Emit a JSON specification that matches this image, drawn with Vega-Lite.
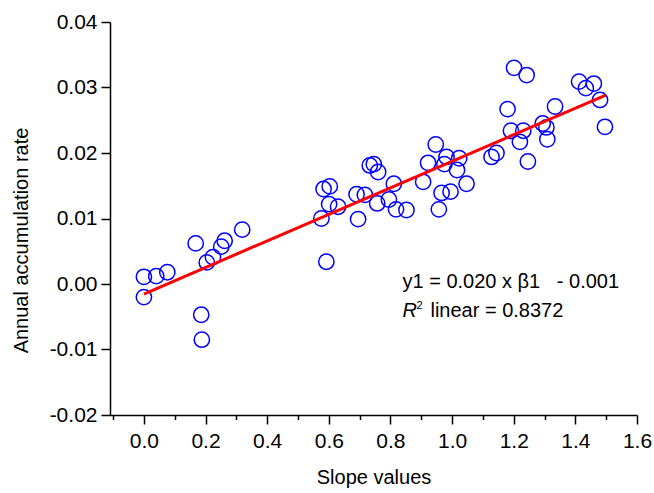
{
  "$schema": "https://vega.github.io/schema/vega-lite/v6.json",
  "width": 527,
  "height": 393,
  "autosize": "none",
  "padding": {"left": 110, "top": 22, "right": 17, "bottom": 78},
  "background": "white",
  "config": {
    "view": {"stroke": null},
    "font": "Liberation Sans",
    "axis": {
      "grid": false,
      "domainColor": "black",
      "domainWidth": 1.5,
      "tickColor": "black",
      "tickWidth": 1.5,
      "tickSize": 9,
      "labelColor": "black",
      "titleColor": "black",
      "labelFont": "Liberation Sans",
      "titleFont": "Liberation Sans",
      "labelFontSize": 21,
      "titleFontSize": 20,
      "titleFontWeight": "normal",
      "labelOverlap": false,
      "labelFlush": false
    }
  },
  "datasets": {
    "points": [
      {"slope": 0.000, "rate": 0.0011},
      {"slope": 0.000, "rate": -0.0020},
      {"slope": 0.040, "rate": 0.0012},
      {"slope": 0.076, "rate": 0.0018},
      {"slope": 0.168, "rate": 0.0062},
      {"slope": 0.204, "rate": 0.0033},
      {"slope": 0.224, "rate": 0.0041},
      {"slope": 0.251, "rate": 0.0057},
      {"slope": 0.262, "rate": 0.0066},
      {"slope": 0.319, "rate": 0.0083},
      {"slope": 0.186, "rate": -0.0047},
      {"slope": 0.188, "rate": -0.0085},
      {"slope": 0.733, "rate": 0.0181},
      {"slope": 0.746, "rate": 0.0183},
      {"slope": 0.760, "rate": 0.0171},
      {"slope": 0.603, "rate": 0.0149},
      {"slope": 0.583, "rate": 0.0145},
      {"slope": 0.601, "rate": 0.0122},
      {"slope": 0.630, "rate": 0.0118},
      {"slope": 0.576, "rate": 0.0100},
      {"slope": 0.690, "rate": 0.0137},
      {"slope": 0.717, "rate": 0.0136},
      {"slope": 0.695, "rate": 0.0099},
      {"slope": 0.757, "rate": 0.0123},
      {"slope": 0.811, "rate": 0.0153},
      {"slope": 0.795, "rate": 0.0129},
      {"slope": 0.818, "rate": 0.0114},
      {"slope": 0.852, "rate": 0.0113},
      {"slope": 0.592, "rate": 0.0034},
      {"slope": 0.947, "rate": 0.0213},
      {"slope": 0.922, "rate": 0.0185},
      {"slope": 0.982, "rate": 0.0194},
      {"slope": 0.975, "rate": 0.0183},
      {"slope": 1.023, "rate": 0.0192},
      {"slope": 1.016, "rate": 0.0174},
      {"slope": 1.047, "rate": 0.0153},
      {"slope": 0.906, "rate": 0.0156},
      {"slope": 0.995, "rate": 0.0141},
      {"slope": 0.966, "rate": 0.0139},
      {"slope": 0.957, "rate": 0.0114},
      {"slope": 1.128, "rate": 0.0194},
      {"slope": 1.144, "rate": 0.0200},
      {"slope": 1.180, "rate": 0.0267},
      {"slope": 1.201, "rate": 0.0330},
      {"slope": 1.242, "rate": 0.0319},
      {"slope": 1.191, "rate": 0.0234},
      {"slope": 1.231, "rate": 0.0234},
      {"slope": 1.220, "rate": 0.0217},
      {"slope": 1.246, "rate": 0.0187},
      {"slope": 1.334, "rate": 0.0271},
      {"slope": 1.294, "rate": 0.0245},
      {"slope": 1.306, "rate": 0.0239},
      {"slope": 1.309, "rate": 0.0221},
      {"slope": 1.412, "rate": 0.0309},
      {"slope": 1.460, "rate": 0.0306},
      {"slope": 1.434, "rate": 0.0299},
      {"slope": 1.480, "rate": 0.0281},
      {"slope": 1.496, "rate": 0.0240}
    ],
    "fit": [
      {"slope": 0.0, "rate": -0.00153},
      {"slope": 1.499, "rate": 0.02885}
    ]
  },
  "resolve": {"axis": {"x": "independent"}},
  "layer": [
    {
      "data": {"name": "points"},
      "mark": {"type": "point", "opacity": 0},
      "encoding": {
        "x": {
          "field": "slope", "type": "quantitative",
          "scale": {"domain": [-0.11, 1.6], "nice": false, "zero": false},
          "axis": {
            "orient": "bottom",
            "values": [-0.1, 0.1, 0.3, 0.5, 0.7, 0.9, 1.1, 1.3, 1.5],
            "labels": false,
            "domain": false,
            "tickSize": 4.5,
            "title": null
          }
        },
        "y": {
          "field": "rate", "type": "quantitative",
          "scale": {"domain": [-0.02, 0.04], "nice": false, "zero": false},
          "axis": {
            "values": [-0.02, -0.015, -0.01, -0.005, 0, 0.005, 0.01, 0.015, 0.02, 0.025, 0.03, 0.035, 0.04],
            "labelExpr": "abs(round(datum.value*200))%2==0 ? replace(format(datum.value,'.2f'),'\u2212','-') : ''",
            "tickDash": {"condition": {"test": "abs(round(datum.value*200))%2==0", "value": []}, "value": [4.5, 20]},
            "labelPadding": 4,
            "title": "Annual accumulation rate",
            "titleAngle": -90,
            "titleX": -83,
            "titleY": 218,
            "titleAlign": "center",
            "titleBaseline": "alphabetic"
          }
        }
      }
    },
    {
      "data": {"name": "points"},
      "mark": {"type": "point", "shape": "circle", "filled": false, "color": "#0000ff", "strokeWidth": 1.5, "size": 235, "opacity": 1},
      "encoding": {
        "x": {
          "field": "slope", "type": "quantitative",
          "axis": {
            "orient": "bottom",
            "values": [0, 0.2, 0.4, 0.6, 0.8, 1.0, 1.2, 1.4, 1.6],
            "format": ".1f",
            "labelPadding": 6,
            "title": "Slope values",
            "titleY": 68,
            "titleBaseline": "alphabetic"
          }
        },
        "y": {"field": "rate", "type": "quantitative"}
      }
    },
    {
      "data": {"name": "fit"},
      "mark": {"type": "line", "color": "#ff0000", "strokeWidth": 3},
      "encoding": {
        "x": {"field": "slope", "type": "quantitative", "axis": null},
        "y": {"field": "rate", "type": "quantitative"}
      }
    },
    {
      "data": {"values": [{}]},
      "mark": {"type": "text", "text": "y1 = 0.020 x \u03b21\u00a0\u00a0\u00a0- 0.001", "align": "left", "baseline": "alphabetic", "fontSize": 20, "font": "Liberation Sans", "color": "black"},
      "encoding": {
        "x": {"datum": 0.839, "type": "quantitative", "axis": null},
        "y": {"datum": -0.00066, "type": "quantitative"}
      }
    },
    {
      "data": {"values": [{}]},
      "mark": {"type": "text", "text": "R", "align": "left", "baseline": "alphabetic", "fontSize": 20, "fontStyle": "italic", "font": "Liberation Sans", "color": "black"},
      "encoding": {
        "x": {"datum": 0.839, "type": "quantitative", "axis": null},
        "y": {"datum": -0.0050, "type": "quantitative"}
      }
    },
    {
      "data": {"values": [{}]},
      "mark": {"type": "text", "text": "2", "align": "left", "baseline": "alphabetic", "fontSize": 11, "dx": 14, "dy": -8, "font": "Liberation Sans", "color": "black"},
      "encoding": {
        "x": {"datum": 0.839, "type": "quantitative", "axis": null},
        "y": {"datum": -0.0050, "type": "quantitative"}
      }
    },
    {
      "data": {"values": [{}]},
      "mark": {"type": "text", "text": "linear = 0.8372", "align": "left", "baseline": "alphabetic", "fontSize": 20, "dx": 28, "font": "Liberation Sans", "color": "black"},
      "encoding": {
        "x": {"datum": 0.839, "type": "quantitative", "axis": null},
        "y": {"datum": -0.0050, "type": "quantitative"}
      }
    }
  ]
}
